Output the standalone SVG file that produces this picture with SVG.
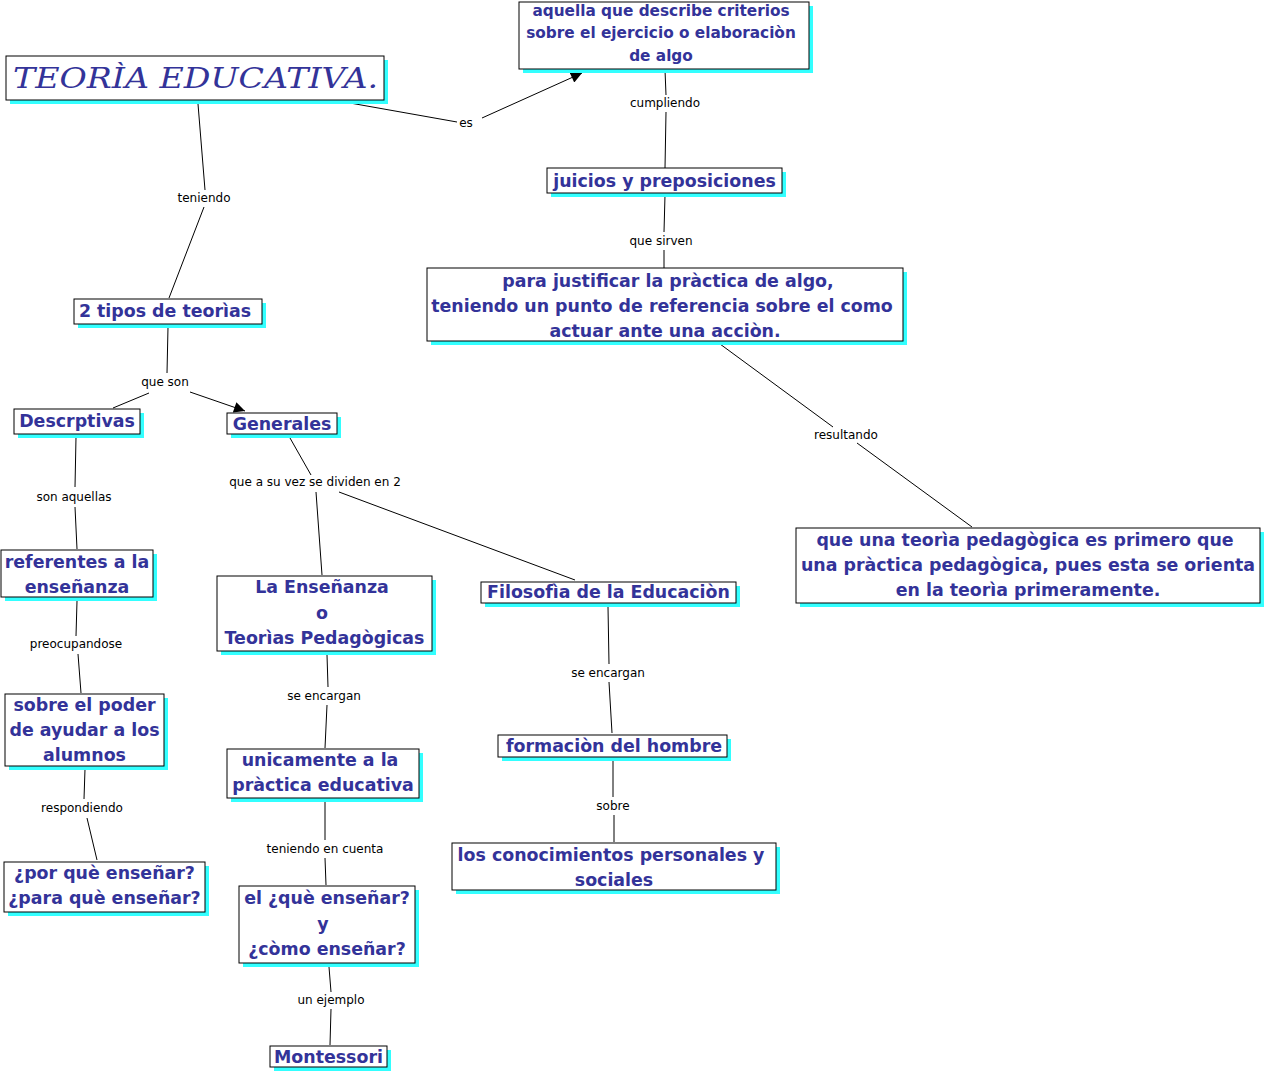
<svg xmlns="http://www.w3.org/2000/svg" width="1267" height="1074" viewBox="0 0 1267 1074">
<style>
.bg{fill:#fff}
.sh{fill:#33ffff}
.box{fill:#fff;stroke:#000;stroke-width:1}
.t{font-family:"DejaVu Sans",Verdana,sans-serif;font-weight:bold;fill:#333399;text-anchor:middle;font-size:17.4px}
.s{font-size:15.3px}
.ttl{font-family:"DejaVu Serif","Liberation Serif",serif;font-style:italic;fill:#333399;font-size:28px}
.lbl{font-family:"DejaVu Sans",Verdana,sans-serif;font-size:12px;fill:#000;text-anchor:middle}
.ln{stroke:#000;stroke-width:1;fill:none}
</style>
<defs>
<marker id="ah" viewBox="0 0 10 10" refX="10" refY="5" markerWidth="12" markerHeight="11" markerUnits="userSpaceOnUse" orient="auto">
<path d="M0,0 L10,5 L0,10 Z" fill="#000"/>
</marker>
</defs>
<rect class="bg" x="0" y="0" width="1267" height="1074"/>

<g id="connectors">
<line class="ln" x1="350" y1="103" x2="457" y2="122"/>
<line class="ln" x1="482" y1="118" x2="582" y2="73" marker-end="url(#ah)"/>
<line class="ln" x1="665" y1="70" x2="666" y2="95"/>
<line class="ln" x1="666" y1="112" x2="665" y2="168"/>
<line class="ln" x1="665" y1="195" x2="664" y2="232"/>
<line class="ln" x1="664" y1="250" x2="664" y2="268"/>
<line class="ln" x1="720" y1="344" x2="833" y2="427"/>
<line class="ln" x1="857" y1="443" x2="972" y2="527"/>
<line class="ln" x1="198" y1="104" x2="205" y2="190"/>
<line class="ln" x1="204" y1="207" x2="169" y2="298"/>
<line class="ln" x1="168" y1="327" x2="167" y2="373"/>
<line class="ln" x1="149" y1="393" x2="113" y2="408"/>
<line class="ln" x1="190" y1="392" x2="245" y2="411" marker-end="url(#ah)"/>
<line class="ln" x1="76" y1="437" x2="75" y2="487"/>
<line class="ln" x1="75" y1="507" x2="77" y2="549"/>
<line class="ln" x1="290" y1="438" x2="311" y2="475"/>
<line class="ln" x1="316" y1="492" x2="322" y2="575"/>
<line class="ln" x1="339" y1="492" x2="575" y2="580"/>
<line class="ln" x1="77" y1="601" x2="76" y2="636"/>
<line class="ln" x1="78" y1="654" x2="81" y2="693"/>
<line class="ln" x1="85" y1="769" x2="84" y2="799"/>
<line class="ln" x1="87" y1="818" x2="97" y2="860"/>
<line class="ln" x1="327" y1="655" x2="328" y2="687"/>
<line class="ln" x1="327" y1="705" x2="325" y2="748"/>
<line class="ln" x1="325" y1="802" x2="325" y2="840"/>
<line class="ln" x1="325" y1="858" x2="326" y2="885"/>
<line class="ln" x1="329" y1="967" x2="331" y2="992"/>
<line class="ln" x1="331" y1="1009" x2="330" y2="1045"/>
<line class="ln" x1="608" y1="607" x2="609" y2="664"/>
<line class="ln" x1="609" y1="682" x2="612" y2="733"/>
<line class="ln" x1="613" y1="761" x2="613" y2="797"/>
<line class="ln" x1="614" y1="815" x2="614" y2="842"/>
<text class="lbl" x="466" y="127">es</text>
<text class="lbl" x="665" y="107">cumpliendo</text>
<text class="lbl" x="661" y="245">que sirven</text>
<text class="lbl" x="846" y="439">resultando</text>
<text class="lbl" x="204" y="202">teniendo</text>
<text class="lbl" x="165" y="386">que son</text>
<text class="lbl" x="74" y="501">son aquellas</text>
<text class="lbl" x="315" y="486">que a su vez se dividen en 2</text>
<text class="lbl" x="76" y="648">preocupandose</text>
<text class="lbl" x="82" y="812">respondiendo</text>
<text class="lbl" x="324" y="700">se encargan</text>
<text class="lbl" x="325" y="853">teniendo en cuenta</text>
<text class="lbl" x="331" y="1004">un ejemplo</text>
<text class="lbl" x="608" y="677">se encargan</text>
<text class="lbl" x="613" y="810">sobre</text>
</g>

<g id="n-titulo">
<rect class="sh" x="10" y="60" width="378" height="44"/>
<rect class="box" x="6" y="56" width="378" height="44"/>
<text class="ttl" x="13" y="88" textLength="365" lengthAdjust="spacingAndGlyphs">TEORÌA EDUCATIVA.</text>
</g>

<g id="n-aquella">
<rect class="sh" x="523" y="6" width="290" height="67"/>
<rect class="box" x="519" y="2" width="290" height="67"/>
<text class="t s" x="661" y="16">aquella que describe criterios</text>
<text class="t s" x="661" y="38">sobre el ejercicio o elaboraciòn</text>
<text class="t s" x="661" y="61">de algo</text>
</g>

<g id="n-juicios">
<rect class="sh" x="551" y="172" width="235" height="25"/>
<rect class="box" x="547" y="168" width="235" height="25"/>
<text class="t" x="664.5" y="187">juicios y preposiciones</text>
</g>

<g id="n-justificar">
<rect class="sh" x="431" y="272" width="476" height="73"/>
<rect class="box" x="427" y="268" width="476" height="73"/>
<text class="t" x="668" y="287">para justificar la pràctica de algo,</text>
<text class="t" x="662" y="312">teniendo un punto de referencia sobre el como</text>
<text class="t" x="665" y="337">actuar ante una acciòn.</text>
</g>

<g id="n-teoria">
<rect class="sh" x="800" y="532" width="464" height="75"/>
<rect class="box" x="796" y="528" width="464" height="75"/>
<text class="t" x="1025" y="546">que una teorìa pedagògica es primero que</text>
<text class="t" x="1028" y="571">una pràctica pedagògica, pues esta se orienta</text>
<text class="t" x="1028" y="596">en la teorìa primeramente.</text>
</g>

<g id="n-tipos">
<rect class="sh" x="78" y="303" width="188" height="25"/>
<rect class="box" x="74" y="299" width="188" height="25"/>
<text class="t" x="165" y="317">2 tipos de teorìas</text>
</g>

<g id="n-descrptivas">
<rect class="sh" x="18" y="413" width="126" height="25"/>
<rect class="box" x="14" y="409" width="126" height="25"/>
<text class="t" x="77" y="427">Descrptivas</text>
</g>

<g id="n-generales">
<rect class="sh" x="231" y="417" width="110" height="21"/>
<rect class="box" x="227" y="413" width="110" height="21"/>
<text class="t" x="282" y="430">Generales</text>
</g>

<g id="n-referentes">
<rect class="sh" x="5" y="554" width="152" height="47"/>
<rect class="box" x="1" y="550" width="152" height="47"/>
<text class="t" x="77" y="568">referentes a la</text>
<text class="t" x="77" y="593">enseñanza</text>
</g>

<g id="n-poder">
<rect class="sh" x="9" y="698" width="159" height="72"/>
<rect class="box" x="5" y="694" width="159" height="72"/>
<text class="t" x="84.5" y="711">sobre el poder</text>
<text class="t" x="84.5" y="736">de ayudar a los</text>
<text class="t" x="84.5" y="761">alumnos</text>
</g>

<g id="n-porque">
<rect class="sh" x="8" y="866" width="201" height="50"/>
<rect class="box" x="4" y="862" width="201" height="50"/>
<text class="t" x="104.5" y="879">¿por què enseñar?</text>
<text class="t" x="104.5" y="904">¿para què enseñar?</text>
</g>

<g id="n-ensenanza">
<rect class="sh" x="221" y="580" width="215" height="75"/>
<rect class="box" x="217" y="576" width="215" height="75"/>
<text class="t" x="322" y="593">La Enseñanza</text>
<text class="t" x="322" y="619">o</text>
<text class="t" x="324.5" y="644">Teorìas Pedagògicas</text>
</g>

<g id="n-unicamente">
<rect class="sh" x="231" y="753" width="192" height="49"/>
<rect class="box" x="227" y="749" width="192" height="49"/>
<text class="t" x="320" y="766">unicamente a la</text>
<text class="t" x="323" y="791">pràctica educativa</text>
</g>

<g id="n-que">
<rect class="sh" x="243" y="890" width="176" height="77"/>
<rect class="box" x="239" y="886" width="176" height="77"/>
<text class="t" x="327" y="904">el ¿què enseñar?</text>
<text class="t" x="323" y="930">y</text>
<text class="t" x="327" y="955">¿còmo enseñar?</text>
</g>

<g id="n-montessori">
<rect class="sh" x="274" y="1050" width="117" height="21"/>
<rect class="box" x="270" y="1046" width="117" height="21"/>
<text class="t" x="328.5" y="1063">Montessori</text>
</g>

<g id="n-filosofia">
<rect class="sh" x="485" y="586" width="255" height="21"/>
<rect class="box" x="481" y="582" width="255" height="21"/>
<text class="t" x="608.5" y="598">Filosofìa de la Educaciòn</text>
</g>

<g id="n-formacion">
<rect class="sh" x="502" y="739" width="229" height="22"/>
<rect class="box" x="498" y="735" width="229" height="22"/>
<text class="t" x="614" y="752">formaciòn del hombre</text>
</g>

<g id="n-conocimientos">
<rect class="sh" x="456" y="847" width="324" height="47"/>
<rect class="box" x="452" y="843" width="324" height="47"/>
<text class="t" x="611" y="861">los conocimientos personales y</text>
<text class="t" x="614" y="886">sociales</text>
</g>
</svg>
